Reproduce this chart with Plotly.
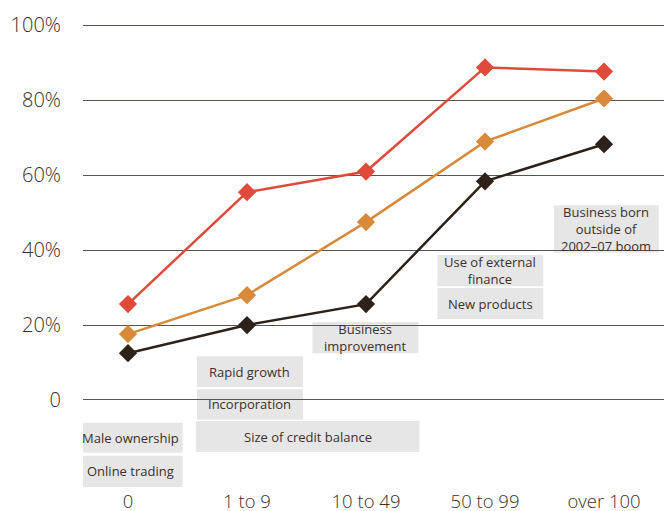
import plotly.graph_objects as go

categories = ["0", "1 to 9", "10 to 49", "50 to 99", "over 100"]
series_red = [25.6, 55.5, 61.0, 88.8, 87.7]
series_orange = [17.6, 28.0, 47.5, 69.0, 80.5]
series_black = [12.5, 20.0, 25.6, 58.4, 68.3]
y_tick_vals = [0, 20, 40, 60, 80, 100]
y_tick_text = ["0", "20%", "40%", "60%", "80%", "100%"]
label_texts = [
    "Business born<br>outside of<br>2002–07 boom",
    "Use of external<br>finance",
    "New products",
    "Business<br>improvement",
    "Rapid growth",
    "Incorporation",
    "Size of credit balance",
    "Male ownership",
    "Online trading",
]

# box layout (x0, x1, y0, y1) in axis units
boxes = [
    (3.58, 4.46, 39.4, 52.0),
    (2.60, 3.49, 30.4, 38.7),
    (2.60, 3.49, 21.6, 29.9),
    (1.55, 2.44, 12.5, 20.8),
    (0.58, 1.47, 3.5, 11.7),
    (0.58, 1.47, -5.3, 2.9),
    (0.57, 2.45, -13.9, -5.6),
    (-0.42, 0.46, -14.1, -6.1),
    (-0.42, 0.46, -23.2, -14.9),
]

xs = list(range(len(categories)))
text_color = "#3b302b"
font_family = "'Open Sans', sans-serif"

fig = go.Figure()
for vals, col in [(series_black, "#2e2119"), (series_orange, "#d8893a"), (series_red, "#e04a3b")]:
    fig.add_trace(go.Scatter(
        x=xs, y=vals, mode="lines+markers",
        line=dict(color=col, width=2.5),
        marker=dict(symbol="diamond", size=14, color=col),
        showlegend=False, hoverinfo="skip",
    ))

for (x0, x1, y0, y1), txt in zip(boxes, label_texts):
    fig.add_shape(type="rect", xref="x", yref="y", x0=x0, x1=x1, y0=y0, y1=y1,
                  fillcolor="#e6e6e6", line=dict(width=0), layer="below")
    fig.add_annotation(x=(x0 + x1) / 2, y=(y0 + y1) / 2, xref="x", yref="y",
                       text=txt, showarrow=False, borderpad=0,
                       font=dict(size=13, color=text_color, family=font_family))

fig.update_layout(
    width=664, height=511,
    margin=dict(l=83, r=0, t=17.5, b=23, autoexpand=False),
    plot_bgcolor="white", paper_bgcolor="white",
    font=dict(family=font_family, color=text_color),
)
fig.update_xaxes(
    range=[-0.378, 4.504], tickvals=xs, ticktext=categories,
    showgrid=False, zeroline=False, showline=False, ticks="",
    tickfont=dict(size=18.5, color=text_color, weight=300), automargin=False,
)
fig.update_yaxes(
    range=[-23.5, 102], tickvals=y_tick_vals, ticktext=y_tick_text,
    showgrid=True, gridcolor="#5e544e", gridwidth=1, zeroline=False,
    showline=False, ticks="", ticklabelstandoff=21,
    tickfont=dict(size=20, color=text_color, weight=300), automargin=False,
)

fig.write_html("out.html")
